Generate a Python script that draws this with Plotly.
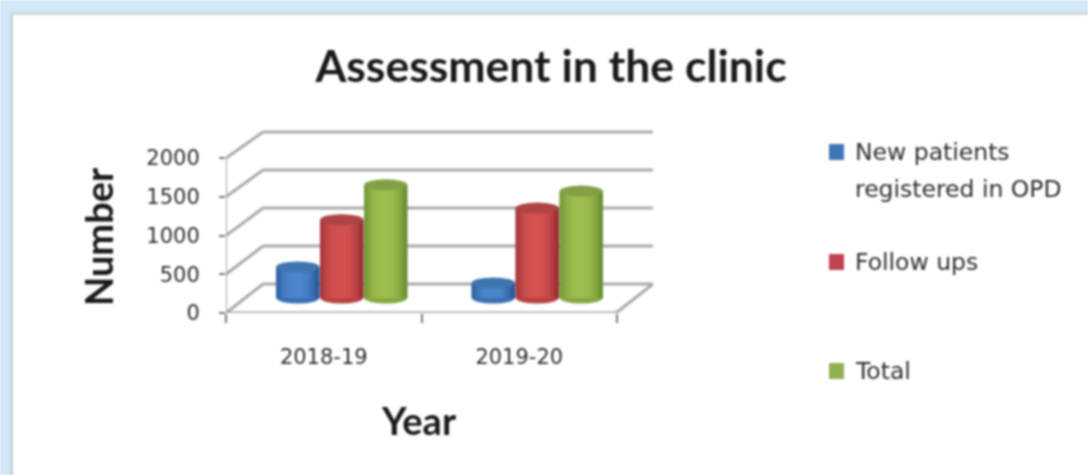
import plotly.graph_objects as go

categories = ["2018-19", "2019-20"]
series_names = ["New patients<br>registered in OPD", "Follow ups", "Total"]
new_patients = [400, 195]
follow_ups = [1010, 1160]
total = [1460, 1380]
y_ticks = [0, 500, 1000, 1500, 2000]

W, H = 1088, 475
L, R, T, B = 226, 653, 125, 313      # plot rectangle in pixels
PX_PER_VALUE = 0.0775
PX_PER_CAT = 195.5
X0, X1 = -0.5, -0.5 + (R - L) / PX_PER_CAT
YMAX = (B - T) / PX_PER_VALUE
DX = 37 / PX_PER_CAT                  # depth of the box
DY = 29 / PX_PER_VALUE
MID_DX = 18 / PX_PER_CAT              # cylinders stand half-way back
BASE = 15 / PX_PER_VALUE
CYL_W = 43 / PX_PER_CAT
SERIES_OFF = [-44 / PX_PER_CAT, 0, 44 / PX_PER_CAT]
ELL_H = 5.5 / PX_PER_VALUE
STRIPS = 15

values = [new_patients, follow_ups, total]
mid_col = [(78, 134, 205), (212, 82, 80), (157, 190, 78)]
edge_col = [(36, 86, 150), (150, 46, 50), (104, 140, 48)]
top_col = ["#3f74ae", "#ad4545", "#83a046"]
swatch = ["#3f74b5", "#c0414f", "#8fb050"]
legend_y = [152, 262, 371]            # key centres, pixels from the top
legend_line = 37                      # spacing of wrapped key text
GRID = "#aaaaaa"
TEXT = "#1a1a1a"
SOFT = "#2e2e2e"


def mix(a, b, t):
    return "rgb(%d,%d,%d)" % tuple(round(a[i] + (b[i] - a[i]) * t) for i in range(3))


def px(x):
    return (x - L) / (R - L)


def py(y):
    return (B - y) / (B - T)


fig = go.Figure()
shapes = []
annotations = [
    dict(text="<b>Number</b>", textangle=-90, xref="paper", yref="paper", x=px(98), y=py(237),
         xanchor="center", yanchor="middle", showarrow=False,
         font=dict(family="Lato", size=38, color=TEXT)),
    dict(text="<b>Year</b>", xref="paper", yref="paper", x=px(419), y=py(420),
         xanchor="center", yanchor="middle", showarrow=False,
         font=dict(family="Lato", size=38, color=TEXT)),
]

# frame of the picture
for x0, y0, x1, y1, col in [(0, 0, 10, H, "#d2e8f6"), (0, 0, W, 12, "#d2e8f6"),
                            (10, 12, 13, H, "#c4cfd4"), (10, 12, W, 15, "#cfd8dc")]:
    shapes.append(dict(type="rect", xref="paper", yref="paper", x0=px(x0), x1=px(x1),
                       y0=py(y0), y1=py(y1), fillcolor=col, line_width=0, layer="below"))


def line(x0, y0, x1, y1, color=GRID, width=3):
    shapes.append(dict(type="line", xref="x", yref="y", x0=x0, y0=y0, x1=x1, y1=y1,
                       line=dict(color=color, width=width), layer="below"))


# walls: slanted lines and back lines for every tick value
for v in y_ticks:
    line(X0, v, X0 + DX, DY + v * 0.98)
    line(X0 + DX, DY + v * 0.98, X1, DY + v * 0.98)
line(X0, 0, X1 - DX, 0)
line(X1 - DX, 0, X1, DY)
line(X0, 0, X0, y_ticks[-1], color="#8c8c8c", width=1.5)

# cylinders: shaded strips and ellipses on both ends
for s, name in enumerate(series_names):
    xs = [i + MID_DX + SERIES_OFF[s] for i in range(len(categories))]
    plain = name.replace("<br>", " ")
    fig.add_trace(go.Bar(x=xs, y=values[s], base=BASE, width=CYL_W, name=plain,
                         marker=dict(color=swatch[s], line_width=0),
                         showlegend=False, hoverinfo="skip"))
    for k in range(STRIPS):
        t = (k + 0.5) / STRIPS * 2 - 1
        fig.add_trace(go.Bar(x=[x + t * CYL_W / 2 for x in xs], y=values[s], base=BASE,
                             width=CYL_W / STRIPS * 1.15, name=plain,
                             marker=dict(color=mix(mid_col[s], edge_col[s], abs(t + 0.05) ** 2.4),
                                         line_width=0),
                             showlegend=False, hoverinfo="skip"))
    for x, v in zip(xs, values[s]):
        shapes.append(dict(type="circle", xref="x", yref="y", x0=x - CYL_W / 2, x1=x + CYL_W / 2,
                           y0=BASE - ELL_H, y1=BASE + ELL_H,
                           fillcolor=mix(edge_col[s], mid_col[s], 0.55), line_width=0, layer="below"))
        shapes.append(dict(type="circle", xref="x", yref="y", x0=x - CYL_W / 2, x1=x + CYL_W / 2,
                           y0=BASE + v - ELL_H, y1=BASE + v + ELL_H,
                           fillcolor=top_col[s], line_width=0, layer="above"))
    # key: the first line of the text sits level with its swatch
    shapes.append(dict(type="rect", xref="paper", yref="paper", x0=px(829), x1=px(844),
                       y0=py(legend_y[s] - 8), y1=py(legend_y[s] + 8),
                       fillcolor=swatch[s], line_width=0))
    for n, text in enumerate(name.split("<br>")):
        annotations.append(dict(text=text, xref="paper", yref="paper", x=px(853),
                                y=py(legend_y[s] + n * legend_line), xanchor="left", yanchor="middle",
                                showarrow=False,
                                font=dict(family="DejaVu Sans", size=23.5, color=SOFT)))

fig.update_layout(
    width=W, height=H, barmode="overlay", paper_bgcolor="#ffffff", plot_bgcolor="rgba(0,0,0,0)",
    margin=dict(l=L, r=W - R, t=T, b=H - B, pad=0),
    shapes=shapes, annotations=annotations, showlegend=False,
    font=dict(family="DejaVu Sans", color="#333333"),
    title=dict(text="<b>Assessment in the clinic</b>", x=551 / W, xanchor="center",
               y=1 - 66 / H, yanchor="middle",
               font=dict(family="Lato", size=44.5, color=TEXT)),
    xaxis=dict(range=[X0, X1], tickvals=[0, 1], ticktext=categories, showgrid=False, zeroline=False,
               showline=False, ticks="", tickfont=dict(size=21, color=SOFT), ticklabelstandoff=29,
               minor=dict(tickvals=[-0.5, 0.5, 1.5], ticks="outside", ticklen=9, tickcolor="#777777",
                          tickwidth=1.5, showgrid=False)),
    yaxis=dict(range=[0, YMAX], tickvals=y_ticks, showgrid=False, zeroline=False, showline=False,
               ticks="outside", ticklen=6, tickcolor="#777777", tickwidth=1.5, ticklabelstandoff=15,
               tickfont=dict(size=21, color=SOFT)),
)

fig.write_html("out.html", config={"displayModeBar": False},
               post_script="document.body.style.margin='0';"
                           "document.querySelector('.plotly-graph-div').style.filter='blur(0.8px)';")
